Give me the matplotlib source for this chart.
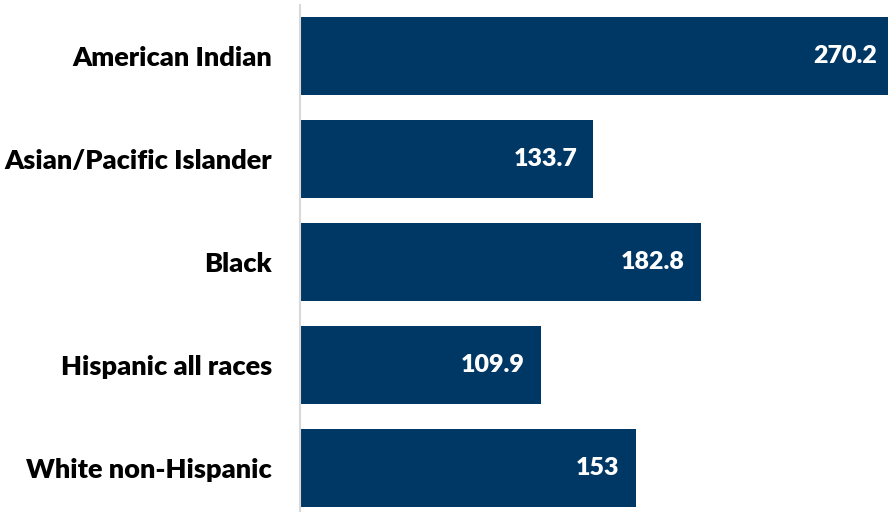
import matplotlib
matplotlib.use("Agg")
import matplotlib.pyplot as plt

groups = ["American Indian", "Asian/Pacific Islander", "Black",
          "Hispanic all races", "White non-Hispanic"]
rates = [270.2, 133.7, 182.8, 109.9, 153]
rate_labels = ["270.2", "133.7", "182.8", "109.9", "153"]

NAVY = "#003865"
plt.rcParams["font.family"] = ["Lato", "DejaVu Sans"]

fig = plt.figure(figsize=(8.88, 5.12), dpi=100)
# axes box in figure pixels: left edge at the category axis line
ax = fig.add_axes([300 / 888, 0, 588 / 888, 507 / 512])

ypos = list(range(len(groups)))
ax.barh(ypos, rates, height=0.757, color=NAVY, zorder=2)
ax.set_xlim(0, 268)
ax.set_ylim(4.427, -0.495)

for y, v, s in zip(ypos, rates, rate_labels):
    ax.annotate(s, (v, y), xytext=(-16, 0), textcoords="offset pixels",
                ha="right", va="center", color="white",
                fontsize=18, fontweight="heavy", annotation_clip=False)

ax.set_yticks(ypos)
ax.set_yticklabels(groups, fontsize=19.5, fontweight="heavy")
ax.tick_params(axis="y", length=0, pad=20)
ax.set_xticks([])
for side in ("top", "right", "bottom"):
    ax.spines[side].set_visible(False)
ax.spines["left"].set_color("#d9d9d9")
ax.spines["left"].set_linewidth(1.5)

fig.savefig("out.png", dpi=100)
